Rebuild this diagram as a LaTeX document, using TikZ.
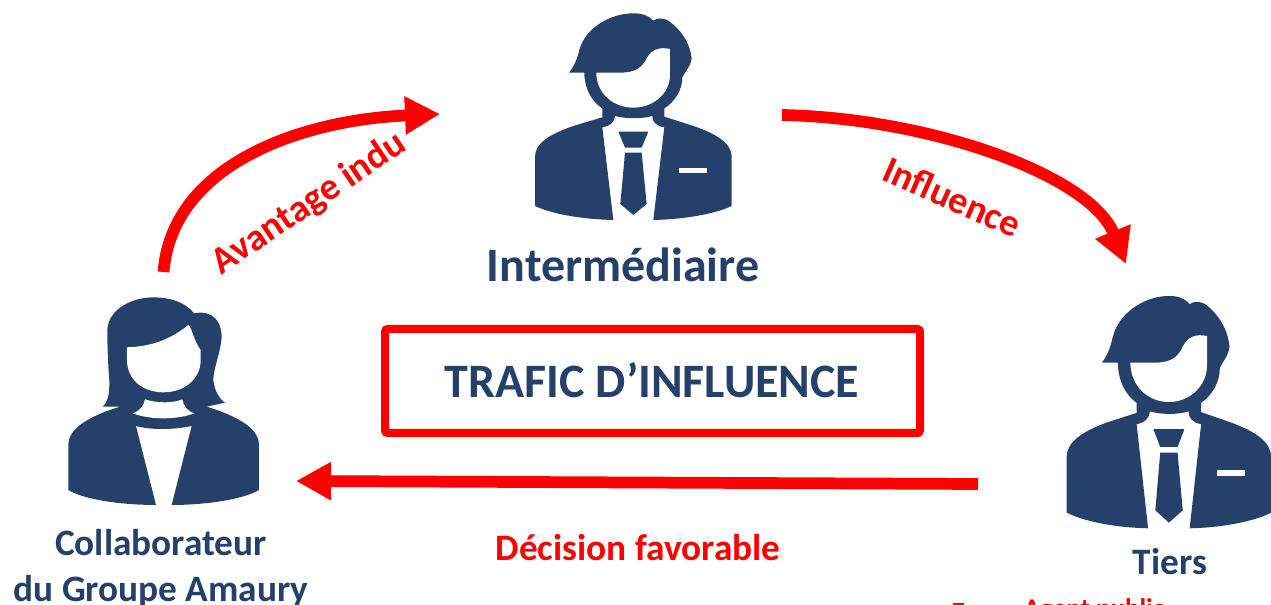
\documentclass[tikz,border=0pt]{standalone}
\usepackage{fontspec}
\setmainfont{Carlito}[BoldFont={Carlito Bold}]
\usetikzlibrary{arrows.meta}
\definecolor{navy}{HTML}{25406A}
\definecolor{redc}{HTML}{FF0000}
\newcommand{\pxfont}[1]{\fontsize{\the\dimexpr #1pt*3/4\relax}{#1pt}\selectfont}
\tikzset{
  man/.pic={
    \fill[navy] (147,218) .. controls (165,195) and (172,175) .. (178,150)
      .. controls (195,85) and (270,40) .. (340,40)
      .. controls (365,40) and (385,45) .. (400,62)
      .. controls (410,55) and (425,52) .. (445,62)
      .. controls (485,90) and (510,130) .. (515,175)
      .. controls (512,200) and (495,215) .. (487,232)
      .. controls (487,270) and (465,305) .. (433,325)
      -- (433,350) -- (520,378)
      .. controls (590,402) and (635,430) .. (635,470)
      -- (635,618) .. controls (590,640) and (500,658) .. (400,660)
      -- (433,382) .. controls (410,378) and (397,368) .. (397,348)
      .. controls (365,357) and (320,357) .. (285,348)
      .. controls (283,368) and (270,378) .. (247,382)
      -- (280,660) .. controls (180,658) and (90,640) .. (45,618)
      -- (45,470) .. controls (45,430) and (90,402) .. (160,378)
      -- (247,352) -- (247,325)
      .. controls (215,305) and (193,265) .. (193,218) -- cycle;
    \fill[white] (229,218) -- (300,218)
      .. controls (350,218) and (368,200) .. (380,175)
      .. controls (395,148) and (420,140) .. (450,147)
      -- (450,225) .. controls (450,280) and (400,323) .. (340,323)
      .. controls (280,323) and (229,280) .. (229,218) -- cycle;
    \fill[navy] (295,395) -- (385,395) -- (365,443) -- (315,443) -- cycle;
    \fill[navy] (315,458) -- (365,458) -- (380,612) -- (340,645) -- (301,612) -- cycle;
    \fill[white] (478,505) rectangle (560,520);
  },
  woman/.pic={
    \fill[navy] (158,350) .. controls (180,330) and (178,290) .. (178,270)
      .. controls (174,220) and (172,170) .. (172,120)
      .. controls (175,55) and (250,22) .. (310,22)
      .. controls (365,22) and (410,40) .. (432,70)
      .. controls (470,62) and (510,75) .. (515,135)
      .. controls (515,180) and (490,235) .. (490,270)
      .. controls (492,300) and (510,330) .. (525,338)
      -- (470,350) .. controls (550,375) and (627,410) .. (627,465)
      -- (627,600) .. controls (580,628) and (470,645) .. (365,645)
      -- (425,408) .. controls (370,420) and (300,420) .. (258,408)
      -- (318,645) .. controls (210,645) and (100,628) .. (55,600)
      -- (55,465) .. controls (55,410) and (130,375) .. (210,350) -- cycle;
    \fill[white] (231,172) .. controls (300,170) and (360,150) .. (415,105)
      .. controls (425,110) and (430,150) .. (452,180)
      -- (452,210) .. controls (452,270) and (400,307) .. (340,307)
      .. controls (280,307) and (231,270) .. (231,210) -- cycle;
    \fill[white] (285,328) .. controls (320,340) and (370,340) .. (397,328)
      .. controls (400,350) and (415,365) .. (433,370)
      .. controls (380,390) and (300,390) .. (248,370)
      .. controls (265,365) and (282,350) .. (285,328) -- cycle;
  },
  flow/.style={draw=redc,line width=8.8pt,-{Triangle[length=26.25pt,width=27pt,fill=redc]}},
  navylabel/.style={text=navy,font=\bfseries,anchor=base,inner sep=0pt,align=center},
  redlabel/.style={text=redc,font=\bfseries,anchor=base,inner sep=0pt},
}
\begin{document}
\begin{tikzpicture}[x=0.75pt,y=-0.75pt]
\path[use as bounding box,clip] (0,0) rectangle (1271,605);
\pic[xscale=0.3333,yscale=0.3333] at (520,0) {man};
\pic[xscale=0.3333,yscale=0.3333] at (50,290) {woman};
\pic[xscale=0.3467,yscale=0.3747] at (1051,281) {man};
\node[navylabel] (inter) at (623,282) {\pxfont{48}Intermédiaire};
\node[navylabel] (collab1) at (161,556) {\pxfont{37.3}Collaborateur};
\node[navylabel] (collab2) at (161,601) {\pxfont{37.3}du Groupe Amaury};
\node[navylabel] (tiers) at (1170,575) {\pxfont{37.3}Tiers};
\node[draw=redc,line width=6pt,rounded corners=2pt,minimum width=401.25pt,minimum height=78pt,inner sep=0pt] (box) at (652.5,381) {};
\node[navylabel] (trafic) at (652,398) {\pxfont{48}TRAFIC D’INFLUENCE};
\coordinate (a1s) at (163.5,272);
\coordinate (a1e) at (440,114);
\coordinate (a2s) at (782,115);
\coordinate (a2e) at (1126,264);
\coordinate (a3s) at (978,484);
\coordinate (a3e) at (296,481);
\draw[flow] (a1s) .. controls (172,165) and (300,120) .. (a1e);
\draw[flow] (a2s) .. controls (930,118) and (1090,175) .. (a2e);
\draw[flow] (a3s) -- (a3e);
\node[redlabel,rotate=34] (avantage) at (315,212) {\pxfont{38}Avantage indu};
\node[redlabel,rotate=-23.8] (influence) at (947,209) {\pxfont{38}Influence};
\node[redlabel] (decision) at (638,561) {\pxfont{37.3}Décision favorable};
\node[redlabel] (agent) at (1094,617) {\pxfont{27}Agent public};
\fill[redc] (953,603) rectangle (964,605);
\end{tikzpicture}
\end{document}
